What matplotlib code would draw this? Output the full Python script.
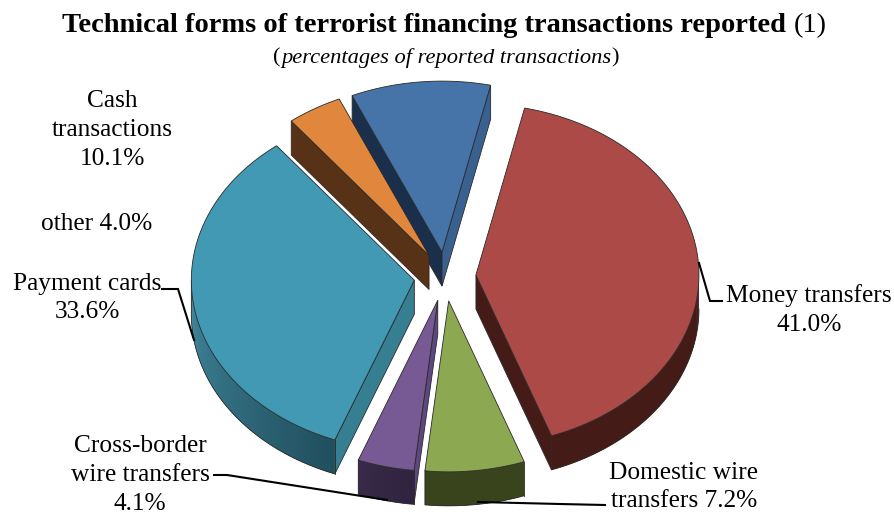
import numpy as np
import matplotlib
matplotlib.use("Agg")
import matplotlib.pyplot as plt
from matplotlib.colors import to_rgb
from matplotlib.patches import Polygon

# share of reported transactions, clockwise from the first slice
names = ["Money transfers", "Domestic wire transfers", "Cross-border wire transfers",
         "Payment cards", "other", "Cash transactions"]
values = [41.0, 7.2, 4.1, 33.6, 4.0, 10.1]

label_fmt = ["Money transfers\n{}", "Domestic wire\ntransfers {}", "Cross-border\nwire transfers\n{}",
             "Payment cards\n{}", "other {}", "Cash\ntransactions\n{}"]
label_x = [809, 684, 140, 87, 97, 112]
label_y = [310, 487, 475, 298, 224, 130]

top_col = ["#AC4A47", "#8CA850", "#775A93", "#4299B3", "#E0873D", "#4674A8"]
start_col = ["#451B18", "#39441C", "#5E4781", "#367F92", "#573217", "#1A2F4B"]
end_col = ["#451B18", "#39441C", "#332640", "#367F92", "#573217", "#39618F"]
wall_a = ["#451B18", "#39441C", "#2F2340", "#204F5E", "#573217", "#1A2F4B"]
wall_b = ["#451B18", "#39441C", "#382A48", "#42899F", "#573217", "#1A2F4B"]

# back slices first so the front ones cover them
draw_order = [5, 4, 3, 0, 2, 1]

cx, cy = 445.0, 276.5
a, b = 223.0, 171.0
ex, ey = 31.0, 24.5
depth = 34.0
start_angle = 12.6
edge = "#2a2a2a"


def rim(theta, ox, oy, dz=0.0):
    t = np.radians(theta)
    return np.column_stack([ox + a * np.sin(t), oy - b * np.cos(t) + dz])


plt.rcParams["font.family"] = ["Liberation Serif", "DejaVu Serif"]
fig = plt.figure(figsize=(8.95, 5.15), dpi=100, facecolor="white")
ax = fig.add_axes([0, 0, 1, 1])
ax.set_xlim(0, 895)
ax.set_ylim(515, 0)
ax.axis("off")

angles = start_angle + np.cumsum([0] + [v * 3.6 for v in values])

for i in draw_order:
    t0, t1 = angles[i], angles[i + 1]
    mid = np.radians((t0 + t1) / 2)
    ox = cx + ex * np.sin(mid)
    oy = cy - ey * np.cos(mid)
    apex = np.array([[ox, oy]])
    low = apex + [0, depth]

    # cut faces, skipping the ones that turn away from the viewer
    faces = []
    if np.sin(np.radians(t0)) < 0:
        faces.append((t0, start_col[i]))
    if np.sin(np.radians(t1)) > 0:
        faces.append((t1, end_col[i]))
    for th, col in faces:
        p, q = rim(th, ox, oy), rim(th, ox, oy, depth)
        ax.add_patch(Polygon(np.vstack([apex, p, q, low]), closed=True, fc=col,
                             ec=edge, lw=0.6, zorder=2))

    # outer wall, only the part facing the viewer, each strip overlaps the next
    w0 = max(t0, 90.0)
    w1 = min(t1, 270.0)
    if w1 > w0:
        ts = np.linspace(w0, w1, max(int(w1 - w0), 2) + 1)
        ca, cb = np.array(to_rgb(wall_a[i])), np.array(to_rgb(wall_b[i]))
        for s0, s1 in zip(ts[:-1], ts[1:]):
            f = ((s0 + s1) / 2 - w0) / (w1 - w0)
            col = ca * (1 - f) + cb * f
            s2 = min(s1 + 1.0, w1)
            arc = np.linspace(s0, s2, 6)
            pts = np.vstack([rim(arc, ox, oy), rim(arc[::-1], ox, oy, depth)])
            ax.add_patch(Polygon(pts, closed=True, fc=col, ec="none", zorder=2))
        arc = np.linspace(w0, w1, 120)
        outline = np.vstack([rim(arc, ox, oy, depth), rim(arc[-1:], ox, oy)])
        ax.plot(outline[:, 0], outline[:, 1], color=edge, lw=0.6, zorder=2)
        if t0 >= 90:
            p = rim(np.array([t0]), ox, oy)
            ax.plot([p[0, 0], p[0, 0]], [p[0, 1], p[0, 1] + depth], color=edge, lw=0.6, zorder=2)

    # top face
    arc = np.linspace(t0, t1, 200)
    ax.add_patch(Polygon(np.vstack([apex, rim(arc, ox, oy)]), closed=True, fc=top_col[i],
                         ec=edge, lw=0.6, zorder=2))

# labels
for i in range(len(values)):
    ax.text(label_x[i], label_y[i], label_fmt[i].format(f"{values[i]:.1f}%"), ha="center",
            va="center", fontsize=18.3, color="black", linespacing=1.4, zorder=4)

# leader lines
leaders = [([699, 710, 722], [263, 301, 301]),
           ([478, 560, 605], [502, 504, 505]),
           ([214, 227, 387], [475, 475, 500]),
           ([162, 178, 194], [289, 289, 340])]
for lx, ly in leaders:
    ax.plot(lx, ly, color="black", lw=1.5, zorder=3, solid_joinstyle="miter")


def centered_runs(runs, xc, y):
    # several font styles on one line, centred together
    rend = fig.canvas.get_renderer()
    items = [ax.text(0, y, s, va="center", ha="left", fontsize=fs, **kw) for s, fs, kw in runs]
    widths = [t.get_window_extent(rend).width for t in items]
    x = xc - sum(widths) / 2
    for t, w in zip(items, widths):
        t.set_x(x)
        x += w


centered_runs([("Technical forms of terrorist financing transactions reported ", 20.5, {"fontweight": "bold"}),
               ("(1)", 20.5, {})], 444.5, 26)
centered_runs([("(", 16.2, {}), ("percentages of reported transactions", 16.2, {"fontstyle": "italic"}),
               (")", 16.2, {})], 446, 58)

fig.savefig("out.png", dpi=100, facecolor="white")
